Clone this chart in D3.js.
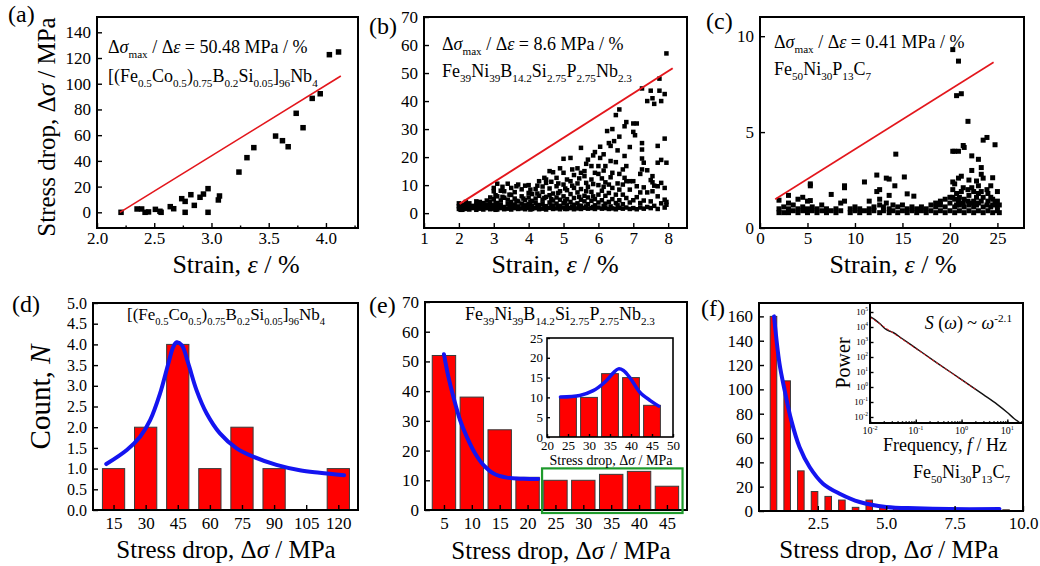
<!DOCTYPE html>
<html>
<head>
<meta charset="utf-8">
<script src="https://cdn.jsdelivr.net/npm/d3@7"></script>
<style>
  body { margin: 0; background: #fff; }
  svg { display: block; }
  svg text { font-family: "Liberation Serif", "DejaVu Serif", "Noto Serif", "Times New Roman", Times, serif; white-space: pre; fill: #000; }
</style>
</head>
<body>
<svg id="fig" width="1040" height="566" font-family="Liberation Serif, DejaVu Serif, serif"></svg>
<script>
// (a) [(Fe0.5Co0.5)0.75B0.2Si0.05]96Nb4 : stress drop vs strain
const aStrain = [2.21,2.35,2.39,2.42,2.45,2.51,2.55,2.56,2.64,2.67,2.74,2.77,2.77,2.82,2.85,2.90,2.93,2.97,2.97,3.06,3.07,3.24,3.31,3.37,3.56,3.62,3.67,3.74,3.80,3.88,3.95,4.03,4.11];
const aDrop = [0,2.6,2.6,0,0.3,2.3,0.8,0,4.4,2.8,10.6,8.5,0,13.7,5.4,11.7,14.2,18.4,0,9.6,12.7,31.3,42.5,50.3,59.3,55.7,51,77,65.8,88.6,92.2,122.6,124.7];
const aFitStrain = [2.2, 4.13];
const aFitDrop = [0, 106];
const aXTicks = [2.0, 2.5, 3.0, 3.5, 4.0];
const aXMinor = [2.25, 2.75, 3.25, 3.75, 4.25];
const aYTicks = [0, 20, 40, 60, 80, 100, 120, 140];

// (b) Fe39Ni39B14.2Si2.75P2.75Nb2.3 : rows "strain: drops"
const bRows = `
2.0: 1.5 2.5 3.5
2.05: 1.2 2.2
2.1: 1.2 2 3
2.2: 1.5 2.8 4
2.3: 1.3 2.2 3.5
2.4: 1.8 2.6
2.5: 1.2 2.4 3 4.2
2.6: 1.6 2.8 4
2.7: 1.3 2.2 3.6
2.8: 1.8 3 4.5
2.9: 1.4 2.5 4 5.6
3.0: 1.6 2.8 5 7.8 9
3.05: 1.2 3.6 6.4
3.1: 1.3 2.4 3.6 6 10.5
3.2: 1.8 3 4.5 8
3.25: 2 5.8 9.4
3.3: 1.4 2.2 5.5 7.8
3.4: 1.6 3.2 4.8 10.5
3.45: 2.4 6.6
3.5: 1.3 2.6 4 6.5 9
3.6: 1.8 3 5.2 7.5
3.65: 2.2 4.4 9.6
3.7: 1.5 2.4 4.2 10.2
3.8: 1.7 3.4 6 8.5
3.85: 2.2 5.2
3.9: 1.4 2.8 4.6 9.8
4.0: 1.9 3.2 5.6 7.2 10
4.05: 1.3 4 8.4
4.1: 1.5 2.6 4.4 6.8
4.2: 1.8 3.6 5.2 8.6
4.25: 2.4 7 9.8
4.3: 1.4 2.9 6.2 11.4
4.4: 1.6 3.3 4.8 7.6 9.5
4.45: 2.2 5.4 12.6
4.5: 1.3 2.5 5.8 10.8 12
4.6: 1.9 3.8 6.4 8.8 15
4.65: 2.6 5 11.2
4.7: 1.5 2.7 4.5 7 14.6
4.8: 1.7 3.4 5.6 9.6 12.6
4.85: 2.2 7.2 10.6
4.9: 1.4 2.6 4.8 7.8 16
5.0: 2 3.6 6 10.2 14.4 19.4
5.05: 1.5 4.4 8.8
5.1: 1.5 2.8 5 8.2 12
5.2: 1.8 4 6.8 11.4 19.7
5.25: 2.4 9.8 15.6
5.3: 1.4 3 5.4 9 13.6
5.4: 1.7 3.5 7.4 10.6 16
5.45: 2.6 5.8 12.4
5.5: 1.5 2.6 4.8 8.6 14.4 23.3
5.6: 1.9 4.2 6.2 13.2 15
5.65: 2.4 7.8 10.8 17.6
5.7: 1.6 3.2 5.6 9.4 19.1
5.8: 1.8 4.4 7.6 12 16.8
5.85: 2.2 6 10.4 20.6
5.9: 1.5 2.8 5 14.4 21.8
6.0: 2 3.8 6.6 10 14 16.8
6.05: 19.7 23.7
6.1: 1.6 4.6 8 12.4
6.15: 2.6 9.4 15.2 21
6.2: 1.8 3.4 6.2 11 16.8
6.25: 29.3
6.3: 1.5 4 7.2 10.2 25
6.35: 2.4 12.8 18.6 24
6.4: 1.7 5 9 14.4 30
6.45: 25.7
6.5: 1.4 3.6 6.6 18.2 35
6.55: 2.8 10.6 22.4
6.6: 1.9 4.6 8.4 14 27.3 37
6.7: 1.6 3.2 6.6 10.2 15.6
6.75: 12.6 20.4 31
6.8: 2 5.4 11.4 16.8 32.5
6.9: 1.5 3.8 8.4 11.4 23.6
7.0: 1.8 4.6 11.4 29 32
7.05: 27.8
7.1: 1.4 5.7 9.6 32
7.2: 2 3.6 7.4 14
7.25: 15.6 19.5 22.7 25 44.5
7.3: 1.6 4.5 9.2 18
7.4: 2.2 7.4 15.3 40
7.5: 1.8 4.2 11.8 43.7
7.55: 7.8 11 13.2 41
7.6: 2.6 9.8 39
7.7: 1.5 6 9.6 18 24
7.75: 43.7 48
7.8: 3.5 10.8 19 40
7.9: 2 4.8 9 26.6 42.5
7.95: 3 4 18 57
`;
const bFitStrain = [2.02, 8.13];
const bFitDrop = [3.3, 51.7];
const bXTicks = [1, 2, 3, 4, 5, 6, 7, 8];
const bYTicks = [0, 10, 20, 30, 40, 50, 60, 70];

// (c) Fe50Ni30P13C7
const cRows = `
2.0: 0.8 1.0 1.45
2.5: 0.8 1.1
3.0: 0.8 1.0 1.3 1.7
3.5: 0.9 1.2
4.0: 0.8 1.0 1.5
4.5: 0.9 1.1 1.6
5.0: 0.8 1.0 1.4
5.3: 1.43 2.2 2.3
5.5: 0.9 1.1
6.0: 0.8 1.0
6.5: 0.9 1.2
7.0: 0.8 1.0
7.5: 0.9 1.75
8.0: 0.8 1.0
8.5: 0.9 1.3
8.9: 1.4 2.1 2.2
9.5: 0.8 1.0
10.0: 0.9 1.1
10.5: 0.8 1.0
11.0: 0.9 2.4
11.5: 0.8 1.0 1.4
12.0: 0.9 1.1
12.3: 1.9 2.76
12.6: 0.8 1.2 1.5 2.0
13.0: 0.9 1.1
13.3: 1.3 2.6
13.6: 0.8 1.0 1.7 2.55
14.0: 0.9 1.2
14.2: 2.2
14.3: 3.85
14.5: 0.8 1.1
15.0: 0.9 1.2
15.2: 2.66
15.5: 0.8 1.0 1.78
16.0: 0.9 1.1
16.2: 1.66
16.5: 0.8 1.0
17.0: 0.9 1.1
17.5: 0.8 1.0
18.0: 0.9 1.2
18.5: 0.8 1.1 1.3
19.0: 0.9 1.2 1.4
19.5: 0.8 1.1 1.5
20.0: 0.9 1.3 1.6
20.3: 1.6 2.0 2.4 4.0 9.3
20.5: 0.8 1.1 1.5 2.3 4.0
20.7: 1.2 1.8 6.9
20.9: 1.4 2.6 4.0 8.7
21.0: 0.9 1.2 1.6
21.2: 1.9 2.7 7.0
21.4: 1.3 2.1 4.3
21.5: 0.8 1.1 1.5 4.2
21.9: 1.4 2.0 5.56
22.0: 0.9 1.2 1.7 2.5
22.3: 1.3 2.1 3.0 3.76
22.5: 0.8 1.1 1.4 1.9
22.8: 1.2 1.6 2.45
23.0: 0.9 1.3 1.8 2.2 3.58
23.3: 1.4 1.9 2.8 3.15
23.5: 0.8 1.1 1.6 2.6 4.58
23.9: 1.2 2.0 4.72
24.0: 0.9 1.4 1.8
24.3: 1.1 1.6 2.2
24.5: 0.8 1.2 1.5 2.62
24.75: 1.3 4.34
25.0: 0.9 1.1 1.4 1.9
25.2: 0.8 1.2
`;
const cFitStrain = [1.6, 24.6];
const cFitDrop = [1.5, 8.64];
const cXTicks = [0, 5, 10, 15, 20, 25];
const cYTicks = [0, 5, 10];

// (d) histogram
const dBins = [15, 30, 45, 60, 75, 90, 105, 120];
const dCounts = [1, 2, 4, 1, 2, 1, 0, 1];
const dFitX = [11.6, 21.2, 27.4, 32.1, 36.7, 40.6, 42.9, 44.5, 46.9, 49.9, 53.8, 58.5, 64.7, 72.5, 80.2, 91.1, 102, 111.3, 122.7];
const dFitY = [1.11, 1.45, 1.77, 2.17, 2.81, 3.54, 3.94, 4.05, 3.98, 3.54, 2.89, 2.33, 1.85, 1.49, 1.29, 1.09, 0.96, 0.9, 0.84];
const dYTicks = [0, 0.5, 1, 1.5, 2, 2.5, 3, 3.5, 4, 4.5, 5];

// (e) histogram + inset
const eBins = [5, 10, 15, 20, 25, 30, 35, 40, 45];
const eCounts = [52, 38, 27, 11, 10, 10, 12, 13, 8];
const eFitX = [5, 5.8, 6.7, 7.9, 9.1, 10.6, 12.1, 13.9, 16.3, 19.3, 21.9];
const eFitY = [52.4, 44.8, 38, 30.2, 24.6, 19, 15.1, 12.3, 10.9, 10.5, 10.4];
const eBox = [22.6, 47.8, 14];
const eYTicks = [0, 10, 20, 30, 40, 50, 60, 70];
const eInBins = [25, 30, 35, 40, 45];
const eInCounts = [10, 10, 16, 15, 8];
const eInFitX = [23.2, 27.8, 31, 33.8, 35.8, 37, 38.2, 39.8, 42.1, 44.6, 46.6];
const eInFitY = [10.1, 10.5, 11.7, 13.9, 16.2, 17.2, 16.8, 14.9, 11.3, 9.2, 7.8];
const eInXTicks = [20, 25, 30, 35, 40, 45, 50];
const eInYTicks = [0, 5, 10, 15, 20, 25];

// (f) histogram + power spectrum inset
const fBins = [0.88, 1.38, 1.88, 2.38, 2.88, 3.38, 3.88, 4.38, 4.88, 5.38, 5.88, 6.38, 6.88, 7.38, 7.88, 8.38, 8.88, 9.38];
const fCounts = [160, 107, 33, 16, 12, 9, 3, 9, 3, 2, 1, 1, 1, 1, 1, 1, 1, 1];
const fFitX = [0.9, 1.1, 1.29, 1.53, 1.83, 2.2, 2.69, 3.3, 4.03, 5.0, 6.1, 7.31, 9.14];
const fFitY = [160, 121, 99, 74.5, 52.6, 36.2, 22.5, 14.2, 7.4, 3.3, 2.2, 1.6, 1.6];
const fXTicks = [2.5, 5.0, 7.5, 10.0];
const fYTicks = [0, 20, 40, 60, 80, 100, 120, 140, 160];
const psdFreq = [0.01, 0.013, 0.017, 0.021, 0.026, 0.032, 0.05, 0.1, 0.3, 1, 3, 6, 10, 14, 19];
const psdPower = [5e4, 3e4, 1.5e4, 8e3, 5.5e3, 4.3e3, 1.7e3, 390, 38, 3.1, 0.31, 0.07, 0.02, 0.008, 0.004];
const psdFitFreq = [0.01, 2];
const psdFitPower = [4.5e4, 0.7];
const psdXTicks = [0.01, 0.1, 1, 10];
const psdXLabels = ['10^{-2}', '10^{-1}', '10^{0}', '10^{1}'];
const psdYTicks = [1e5, 1e4, 1e3, 1e2, 1e1, 1, 0.1, 0.01];
const psdYLabels = ['10^{5}', '10^{4}', '10^{3}', '10^{2}', '10^{1}', '10^{0}', '10^{-1}', '10^{-2}'];

const RED = '#ff0000', BLUE = '#1414f0', FIT = '#e3161c';
const SERIF = '"Liberation Serif", "DejaVu Serif", "Noto Serif", "Times New Roman", Times, serif';
const svg = d3.select('#fig');
let clipN = 0;

// tiny markup: _{sub} ^{sup} *italic*
function rich(t, str, fs) {
  const toks = str.match(/_\{[^}]*\}|\^\{[^}]*\}|\*[^*]*\*|[^_^*]+/g) || [];
  let cur = 0;
  toks.forEach(tok => {
    let s = tok, off = 0, size = fs, it = false;
    if (tok[0] === '_') { s = tok.slice(2, -1); off = 0.3 * fs; size = 0.62 * fs; }
    else if (tok[0] === '^') { s = tok.slice(2, -1); off = -0.4 * fs; size = 0.62 * fs; }
    else if (tok[0] === '*') { s = tok.slice(1, -1); it = true; }
    const ts = t.append('tspan').attr('font-size', size).attr('dy', off - cur).text(s);
    if (it) ts.attr('font-style', 'italic');
    cur = off;
  });
}
function txt(x, y, str, fs, anchor, rot) {
  const t = svg.append('text').attr('font-size', fs).attr('font-family', SERIF)
    .attr('text-anchor', anchor || 'start');
  if (rot) t.attr('transform', `translate(${x},${y}) rotate(${rot})`);
  else t.attr('x', x).attr('y', y);
  rich(t, str, fs);
  return t;
}

function parseRows(s) {
  const pts = [];
  s.trim().split('\n').forEach(line => {
    const [xv, ys] = line.split(':');
    ys.trim().split(/\s+/).forEach(v => pts.push([+xv, +v]));
  });
  return pts;
}

function panel(o) {
  const x = (o.xlog ? d3.scaleLog() : d3.scaleLinear()).domain(o.xd).range([o.l, o.r]);
  const y = (o.ylog ? d3.scaleLog() : d3.scaleLinear()).domain(o.yd).range([o.b, o.t]);
  const g = svg.append('g');
  g.append('rect').attr('x', o.l).attr('y', o.t).attr('width', o.r - o.l).attr('height', o.b - o.t).attr('fill', '#fff');
  const id = 'clip' + (clipN++);
  g.append('clipPath').attr('id', id).append('rect')
    .attr('x', o.l).attr('y', o.t).attr('width', o.r - o.l).attr('height', o.b - o.t);
  const marks = g.append('g').attr('clip-path', `url(#${id})`);
  const ax = g.append('g');
  return { x, y, g, marks, ax, o };
}

function tidy(s, fs, sw) {
  s.select('.domain').remove();
  s.attr('font-size', fs).attr('font-family', SERIF);
  s.selectAll('text').attr('font-family', SERIF);
  s.selectAll('line').attr('stroke', '#000').attr('stroke-width', sw || 1.4);
}

function axes(p, a) {
  const o = p.o, tk = a.tick || 5, fs = a.fs || 17;
  const bx = d3.axisBottom(p.x).tickValues(a.xt).tickFormat(a.xf || (d => d))
    .tickSizeInner(-tk).tickSizeOuter(0).tickPadding(a.xpad);
  p.ax.append('g').attr('transform', `translate(0,${o.b})`).call(bx).call(tidy, fs);
  if (a.xm) {
    p.ax.append('g').attr('transform', `translate(0,${o.b})`)
      .call(d3.axisBottom(p.x).tickValues(a.xm).tickFormat(() => '').tickSizeInner(-tk / 2).tickSizeOuter(0))
      .call(tidy, fs);
  }
  const ly = d3.axisLeft(p.y).tickValues(a.yt).tickFormat(a.yf || (d => d))
    .tickSizeInner(-tk).tickSizeOuter(0).tickPadding(a.ypad);
  p.ax.append('g').attr('transform', `translate(${o.l},0)`).call(ly).call(tidy, a.yfs || fs);
  p.ax.append('rect').attr('x', o.l).attr('y', o.t).attr('width', o.r - o.l).attr('height', o.b - o.t)
    .attr('fill', 'none').attr('stroke', '#000').attr('stroke-width', a.frame || 2);
}

function squares(p, pts, s) {
  p.marks.selectAll(null).data(pts).join('rect')
    .attr('x', d => p.x(d[0]) - s / 2).attr('y', d => p.y(d[1]) - s / 2)
    .attr('width', s).attr('height', s).attr('fill', '#000');
}
function fitLine(p, xs, ys, w) {
  p.marks.append('path').datum(d3.zip(xs, ys))
    .attr('d', d3.line().x(d => p.x(d[0])).y(d => p.y(d[1])))
    .attr('fill', 'none').attr('stroke', FIT).attr('stroke-width', w);
}
function bars(p, bins, counts, w) {
  const data = d3.zip(bins, counts).filter(d => d[1] > 0);
  p.marks.selectAll(null).data(data).join('rect')
    .attr('x', d => p.x(d[0] - w / 2)).attr('width', d => p.x(d[0] + w / 2) - p.x(d[0] - w / 2))
    .attr('y', d => p.y(d[1])).attr('height', d => p.y(0) - p.y(d[1]))
    .attr('fill', RED).attr('stroke', '#3a3a3a').attr('stroke-width', 1);
}
function smooth(p, xs, ys, w) {
  p.marks.append('path').datum(d3.zip(xs, ys))
    .attr('d', d3.line().x(d => p.x(d[0])).y(d => p.y(d[1])).curve(d3.curveCatmullRom.alpha(0.5)))
    .attr('fill', 'none').attr('stroke', BLUE).attr('stroke-width', w).attr('stroke-linecap', 'round');
}

// ---------- (a)
const pa = panel({ l: 97, r: 358, t: 17, b: 228, xd: [2.0, 4.28], yd: [-12.2, 151.9] });
squares(pa, d3.zip(aStrain, aDrop), 5.5);
fitLine(pa, aFitStrain, aFitDrop, 1.6);
axes(pa, { xt: aXTicks, xf: d3.format('.1f'), xm: aXMinor, xpad: 4, yt: aYTicks, ypad: 6 });

// ---------- (b)
const pb = panel({ l: 424, r: 687, t: 17, b: 228, xd: [1, 8.54], yd: [-5.3, 70] });
squares(pb, parseRows(bRows), 4.5);
fitLine(pb, bFitStrain, bFitDrop, 2);
axes(pb, { xt: bXTicks, xpad: 4, yt: bYTicks, ypad: 6 });

// ---------- (c)
const pc = panel({ l: 760, r: 1024, t: 17, b: 228, xd: [0, 27.8], yd: [0, 11] });
squares(pc, parseRows(cRows), 5);
fitLine(pc, cFitStrain, cFitDrop, 1.6);
axes(pc, { xt: cXTicks, xpad: 4, yt: cYTicks, ypad: 6 });

// ---------- (d)
const pd = panel({ l: 93, r: 358, t: 303, b: 510, xd: [5.4, 129.2], yd: [0, 5] });
bars(pd, dBins, dCounts, 10.4);
smooth(pd, dFitX, dFitY, 4);
axes(pd, { xt: dBins, xpad: 7, yt: dYTicks, yf: d3.format('.1f'), ypad: 6, yfs: 16 });

// ---------- (e)
const pe = panel({ l: 425, r: 687, t: 302, b: 510, xd: [1.6, 48.6], yd: [0, 70] });
bars(pe, eBins, eCounts, 4.2);
smooth(pe, eFitX, eFitY, 4);
axes(pe, { xt: eBins, xpad: 7, yt: eYTicks, ypad: 6 });
pe.ax.append('rect')
  .attr('x', pe.x(eBox[0])).attr('y', pe.y(eBox[2]))
  .attr('width', pe.x(eBox[1]) - pe.x(eBox[0])).attr('height', pe.y(0) - pe.y(eBox[2]) + 3)
  .attr('fill', 'none').attr('stroke', '#1e9a2c').attr('stroke-width', 2.2);

const pei = panel({ l: 547, r: 673, t: 338, b: 437, xd: [20, 50], yd: [0, 25] });
bars(pei, eInBins, eInCounts, 4);
smooth(pei, eInFitX, eInFitY, 3.5);
axes(pei, { xt: eInXTicks, xpad: 4, yt: eInYTicks, ypad: 4, fs: 13, tick: 3, frame: 1.6 });

// ---------- (f)
const pf = panel({ l: 759, r: 1023, t: 303, b: 511, xd: [0.35, 10], yd: [0, 171] });
bars(pf, fBins, fCounts, 0.24);
smooth(pf, fFitX, fFitY, 4);
axes(pf, { xt: fXTicks, xf: d3.format('.1f'), xpad: 6, yt: fYTicks, ypad: 6 });

const pfi = panel({ l: 870, r: 1023, t: 303, b: 423, xd: [0.01, 22], yd: [Math.pow(10, -2.4), Math.pow(10, 5.6)], xlog: true, ylog: true });
pfi.marks.append('path').datum(d3.zip(psdFreq, psdPower))
  .attr('d', d3.line().x(d => pfi.x(d[0])).y(d => pfi.y(d[1])).curve(d3.curveMonotoneX))
  .attr('fill', 'none').attr('stroke', '#111').attr('stroke-width', 1.4);
pfi.marks.append('path').datum(d3.zip(psdFitFreq, psdFitPower))
  .attr('d', d3.line().x(d => pfi.x(d[0])).y(d => pfi.y(d[1])))
  .attr('fill', 'none').attr('stroke', FIT).attr('stroke-width', 1).attr('stroke-dasharray', '3,2');
axes(pfi, { xt: psdXTicks, xf: () => '', xm: pfi.x.ticks(), xpad: 2, yt: psdYTicks, yf: () => '', ypad: 2, fs: 9, tick: 3.5, frame: 2 });
psdXTicks.forEach((v, i) => txt(pfi.x(v), 434, psdXLabels[i], 10, 'middle'));
psdYTicks.forEach((v, i) => txt(868, pfi.y(v) + 3, psdYLabels[i], 9, 'end'));

// ---------- titles and annotations
txt(236, 273, 'Strain, *ε* / %', 26, 'middle');
txt(555, 273, 'Strain, *ε* / %', 26, 'middle');
txt(893, 273, 'Strain, *ε* / %', 26, 'middle');
txt(55, 127, 'Stress drop, Δ*σ* / MPa', 25, 'middle', -90);
txt(50, 397, 'Count, *N*', 29, 'middle', -90);
txt(226, 558, 'Stress drop, Δ*σ* / MPa', 25, 'middle');
txt(561, 559, 'Stress drop, Δ*σ* / MPa', 25, 'middle');
txt(889, 558, 'Stress drop, Δ*σ* / MPa', 25, 'middle');

txt(108, 53, 'Δ*σ*_{max} / Δ*ε* = 50.48 MPa / %', 18);
txt(108, 82, '[(Fe_{0.5}Co_{0.5})_{0.75}B_{0.2}Si_{0.05}]_{96}Nb_{4}', 18);
txt(442, 50, 'Δ*σ*_{max} / Δ*ε* = 8.6 MPa / %', 18);
txt(442, 77, 'Fe_{39}Ni_{39}B_{14.2}Si_{2.75}P_{2.75}Nb_{2.3}', 18);
txt(774, 48, 'Δ*σ*_{max} / Δ*ε* = 0.41 MPa / %', 18);
txt(774, 75, 'Fe_{50}Ni_{30}P_{13}C_{7}', 18);
txt(226, 320, '[(Fe_{0.5}Co_{0.5})_{0.75}B_{0.2}Si_{0.05}]_{96}Nb_{4}', 17, 'middle');
txt(560, 320, 'Fe_{39}Ni_{39}B_{14.2}Si_{2.75}P_{2.75}Nb_{2.3}', 18, 'middle');
txt(1010, 478, 'Fe_{50}Ni_{30}P_{13}C_{7}', 18, 'end');
txt(611, 465, 'Stress drop, Δ*σ* / MPa', 14, 'middle');
txt(850, 363, 'Power', 20, 'middle', -90);
txt(945, 451, 'Frequency, *f* / Hz', 18, 'middle');
txt(1012, 329, '*S* (*ω*) ~ *ω*^{-2.1}', 18, 'end');

txt(8, 22, '(a)', 24);
txt(369, 34, '(b)', 24);
txt(706, 29, '(c)', 24);
txt(12, 312, '(d)', 24);
txt(369, 313, '(e)', 24);
txt(701, 316, '(f)', 24);
</script>
</body>
</html>
